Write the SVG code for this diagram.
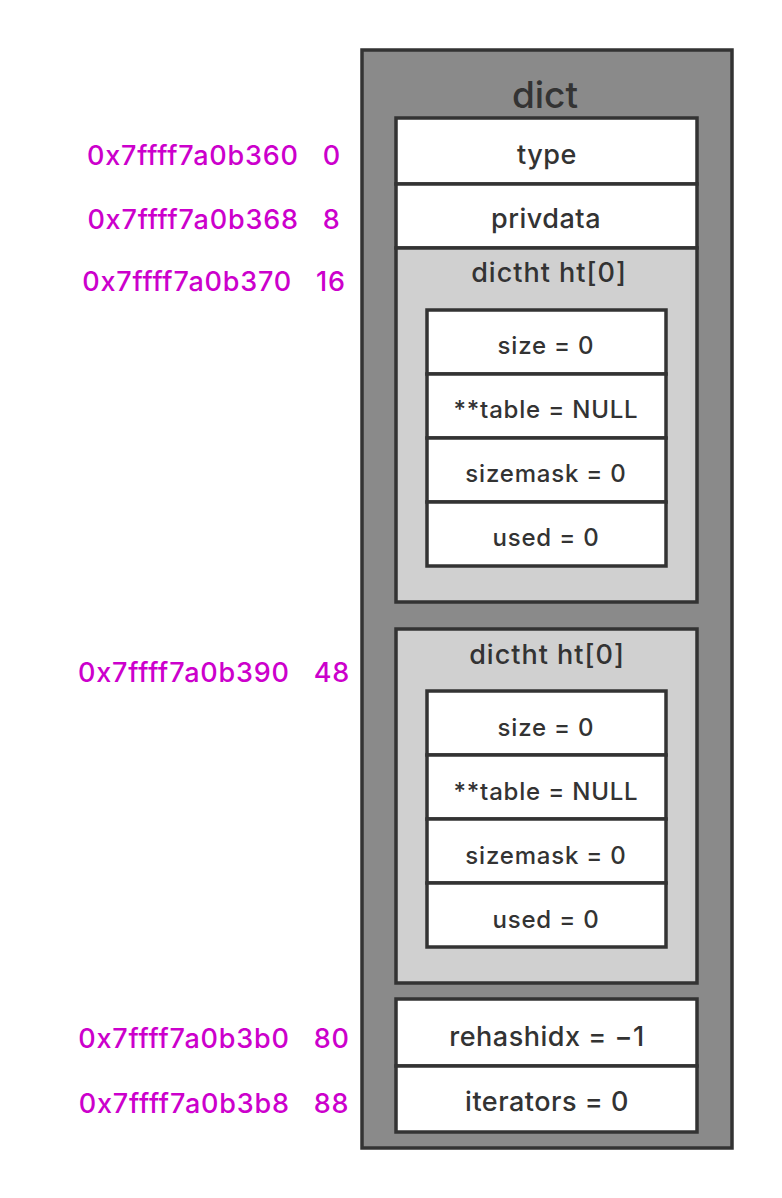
<svg xmlns="http://www.w3.org/2000/svg" width="782" height="1198" viewBox="0 0 782 1198">
<style>
.box{stroke:#333;stroke-width:3.5}
.w{fill:#fff}
.g{fill:#d0d0d0}
.t{font-family:Inter,"Liberation Sans",Arial,sans-serif;font-weight:500;fill:#333;text-anchor:middle}
.f{font-size:27px;letter-spacing:0.5px}
.h{font-size:27px;letter-spacing:1px}
.r{font-size:24px;letter-spacing:0.8px}
.a{font-family:Inter,"Liberation Sans",Arial,sans-serif;font-weight:500;fill:#cc00cc;font-size:27px;letter-spacing:0.8px;text-anchor:middle}
</style>
<rect width="782" height="1198" fill="#fff"/>
<g id="dict">
<rect class="box" x="362" y="50" width="370" height="1098" fill="#8a8a8a"/>
<text class="t" x="545" y="108" font-size="37">dict</text>
</g>
<g id="type"><rect class="box w" x="396" y="118" width="301" height="66"/><text class="t f" x="547" y="164">type</text></g>
<g id="privdata"><rect class="box w" x="396" y="184" width="301" height="64"/><text class="t f" x="546" y="228">privdata</text></g>
<g id="ht0">
<rect class="box g" x="396" y="248" width="301" height="354"/>
<text class="t h" x="549" y="282">dictht ht[0]</text>
<rect class="box w" x="427" y="310" width="239" height="64"/><text class="t r" x="546" y="354">size = 0</text>
<rect class="box w" x="427" y="374" width="239" height="64"/><text class="t r" x="546" y="418">**table = NULL</text>
<rect class="box w" x="427" y="438" width="239" height="64"/><text class="t r" x="546" y="482">sizemask = 0</text>
<rect class="box w" x="427" y="502" width="239" height="64"/><text class="t r" x="546" y="546">used = 0</text>
</g>
<g id="ht1">
<rect class="box g" x="396" y="629" width="301" height="354"/>
<text class="t h" x="547" y="664">dictht ht[0]</text>
<rect class="box w" x="427" y="691" width="239" height="64"/><text class="t r" x="546" y="736">size = 0</text>
<rect class="box w" x="427" y="755" width="239" height="64"/><text class="t r" x="546" y="800">**table = NULL</text>
<rect class="box w" x="427" y="819" width="239" height="64"/><text class="t r" x="546" y="864">sizemask = 0</text>
<rect class="box w" x="427" y="883" width="239" height="64"/><text class="t r" x="546" y="928">used = 0</text>
</g>
<g id="rehashidx"><rect class="box w" x="396" y="999" width="301" height="67"/><text class="t f" x="547" y="1046">rehashidx = −1</text></g>
<g id="iterators"><rect class="box w" x="396" y="1066" width="301" height="66"/><text class="t f" x="547" y="1111">iterators = 0</text></g>
<g id="labels">
<text class="a" x="214" y="165" xml:space="preserve">0x7ffff7a0b360   0</text>
<text class="a" x="214" y="229" xml:space="preserve">0x7ffff7a0b368   8</text>
<text class="a" x="214" y="291" xml:space="preserve">0x7ffff7a0b370   16</text>
<text class="a" x="214" y="682" xml:space="preserve">0x7ffff7a0b390   48</text>
<text class="a" x="214" y="1048" xml:space="preserve">0x7ffff7a0b3b0   80</text>
<text class="a" x="214" y="1113" xml:space="preserve">0x7ffff7a0b3b8   88</text>
</g>
<g id="connectors"></g>
</svg>
